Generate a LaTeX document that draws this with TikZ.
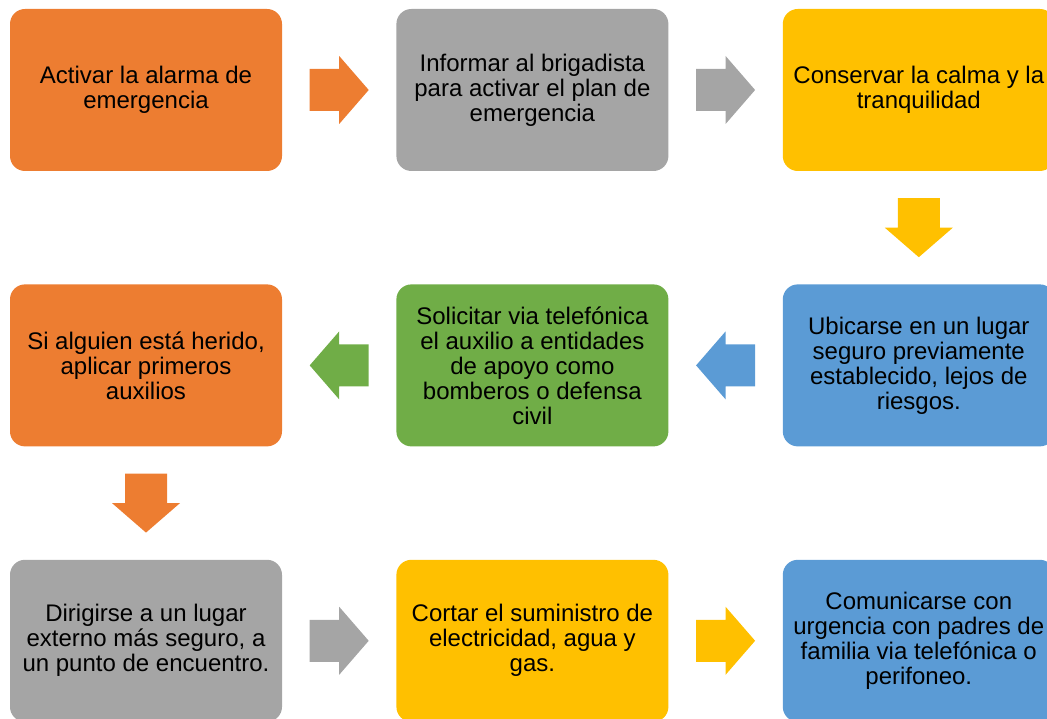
\documentclass[tikz,border=0pt]{standalone}
\usepackage{fontspec}
\setmainfont{Liberation Sans}
\usetikzlibrary{calc}
\usetikzlibrary{positioning}

\definecolor{naranja}{HTML}{ED7D31}
\definecolor{gris}{HTML}{A5A5A5}
\definecolor{amarillo}{HTML}{FFC000}
\definecolor{azul}{HTML}{5B9BD5}
\definecolor{verde}{HTML}{70AD47}

\tikzset{
  paso/.style={rectangle, rounded corners=15pt, minimum width=272pt, minimum height=162pt,
    inner sep=0pt, align=center, font=\fontsize{24}{25}\selectfont},
  flecha/.pic={\fill (-29.5,-21) -- (0,-21) -- (0,-34) -- (29.5,0) -- (0,34) -- (0,21) -- (-29.5,21) -- cycle;}
}

\begin{document}
\begin{tikzpicture}[x=1pt,y=1pt]
                    \useasboundingbox (0,0) rectangle (1047,719);

                    \node[paso, fill=naranja] (act) at (146,629) {Activar la alarma de\\emergencia};
                    \node[paso, fill=gris, right=114pt of act] (inf) {Informar al brigadista\\para activar el plan de\\emergencia};
                    \node[paso, fill=amarillo, right=114pt of inf] (con) {Conservar la calma y la\\tranquilidad};

                    \node[paso, fill=azul, below=113pt of con] (ubi) {Ubicarse en un lugar\\seguro previamente\\establecido, lejos de\\riesgos.};
                    \node[paso, fill=verde, left=114pt of ubi] (sol) {Solicitar via telefónica\\el auxilio a entidades\\de apoyo como\\bomberos o defensa\\civil};
                    \node[paso, fill=naranja, left=114pt of sol] (her) {Si alguien está herido,\\aplicar primeros\\auxilios};

                    \node[paso, fill=gris, below=113pt of her] (dir) {Dirigirse a un lugar\\externo más seguro, a\\un punto de encuentro.};
                    \node[paso, fill=amarillo, right=114pt of dir] (cor) {Cortar el suministro de\\electricidad, agua y\\gas.};
                    \node[paso, fill=azul, right=114pt of cor] (com) {Comunicarse con\\urgencia con padres de\\familia via telefónica o\\perifoneo.};

                    \pic[color=naranja] at ($(act.east)!0.5!(inf.west)$) {flecha};
                    \pic[color=gris] at ($(inf.east)!0.5!(con.west)$) {flecha};
                    \pic[color=amarillo, rotate=-90] at ($(con.south)!0.5!(ubi.north)$) {flecha};
                    \pic[color=azul, rotate=180] at ($(ubi.west)!0.5!(sol.east)$) {flecha};
                    \pic[color=verde, rotate=180] at ($(sol.west)!0.5!(her.east)$) {flecha};
                    \pic[color=naranja, rotate=-90] at ($(her.south)!0.5!(dir.north)$) {flecha};
                    \pic[color=gris] at ($(dir.east)!0.5!(cor.west)$) {flecha};
                    \pic[color=amarillo] at ($(cor.east)!0.5!(com.west)$) {flecha};
                \end{tikzpicture}
\end{document}
